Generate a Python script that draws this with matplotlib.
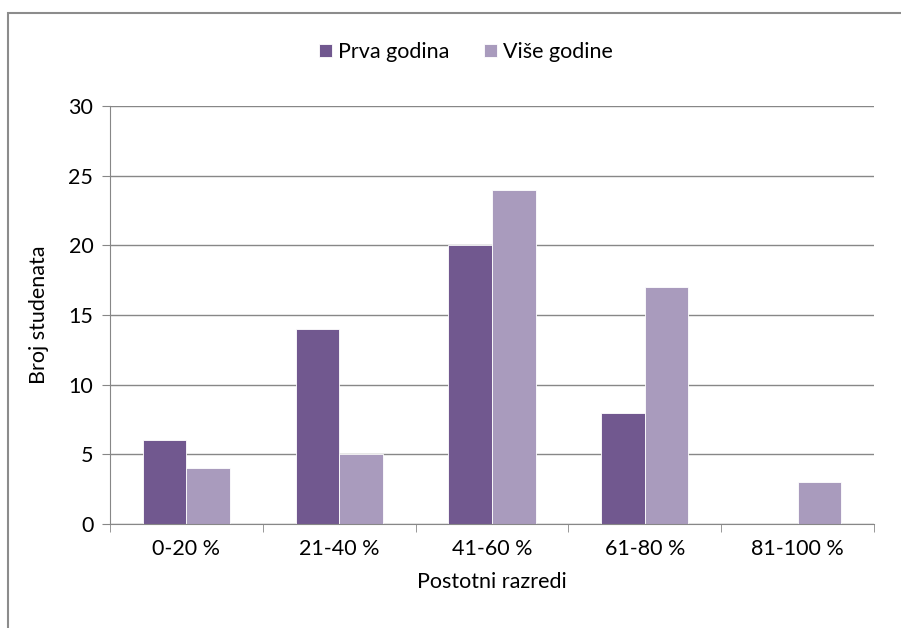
import matplotlib.pyplot as plt
import numpy as np
from matplotlib.patches import Rectangle

plt.rcParams['font.family'] = ['Lato', 'DejaVu Sans']

# podaci
razredi = ['0-20 %', '21-40 %', '41-60 %', '61-80 %', '81-100 %']
prva_godina = [6, 14, 20, 8, 0]
vise_godine = [4, 5, 24, 17, 3]

tamna = '#71588F'
svijetla = '#A99BBD'
siva = '#878787'
fs = 15.5

fig = plt.figure(figsize=(9.01, 6.28), dpi=100)
ax = fig.add_axes([0.1221, 0.1656, 0.8479, 0.6656])

# okvir oko grafikona
fig.patches.append(Rectangle((8 / 901, -0.1), 1.2, 1 - 13 / 628 + 0.1,
                             transform=fig.transFigure, fill=False,
                             edgecolor='#8c8c8c', linewidth=1.5))

x = np.arange(len(razredi))
w = 0.285
ax.bar(x - w / 2, prva_godina, w, color=tamna, edgecolor='white',
       linewidth=0.6, label='Prva godina', zorder=3)
ax.bar(x + w / 2, vise_godine, w, color=svijetla, edgecolor='white',
       linewidth=0.6, label='Više godine', zorder=3)

ax.set_xlim(-0.5, 4.5)
ax.set_ylim(0, 30)
ax.set_yticks(range(0, 31, 5))
ax.set_xticks(x)
ax.set_xticklabels(razredi)
ax.set_xticks(np.arange(-0.5, 5, 1), minor=True)
ax.tick_params(axis='x', which='major', length=0, pad=11, labelsize=fs)
ax.tick_params(axis='x', which='minor', length=6, color=siva)
ax.tick_params(axis='y', length=6, color=siva, labelsize=fs, pad=6)

ax.grid(axis='y', color=siva, linewidth=1, zorder=0)
for s in ['top', 'right']:
    ax.spines[s].set_visible(False)
ax.spines['left'].set_color(siva)
ax.spines['bottom'].set_color(siva)
ax.spines['bottom'].set_zorder(4)

ax.set_xlabel('Postotni razredi', fontsize=fs, labelpad=9)
ax.set_ylabel('Broj studenata', fontsize=fs, labelpad=14)

fig.legend(loc='center', bbox_to_anchor=(466 / 901, 1 - 52 / 628), ncol=2,
           frameon=False, fontsize=fs, handlelength=0.6, handleheight=0.6,
           handletextpad=0.3, columnspacing=1.6)

fig.savefig('out.png', dpi=100)
